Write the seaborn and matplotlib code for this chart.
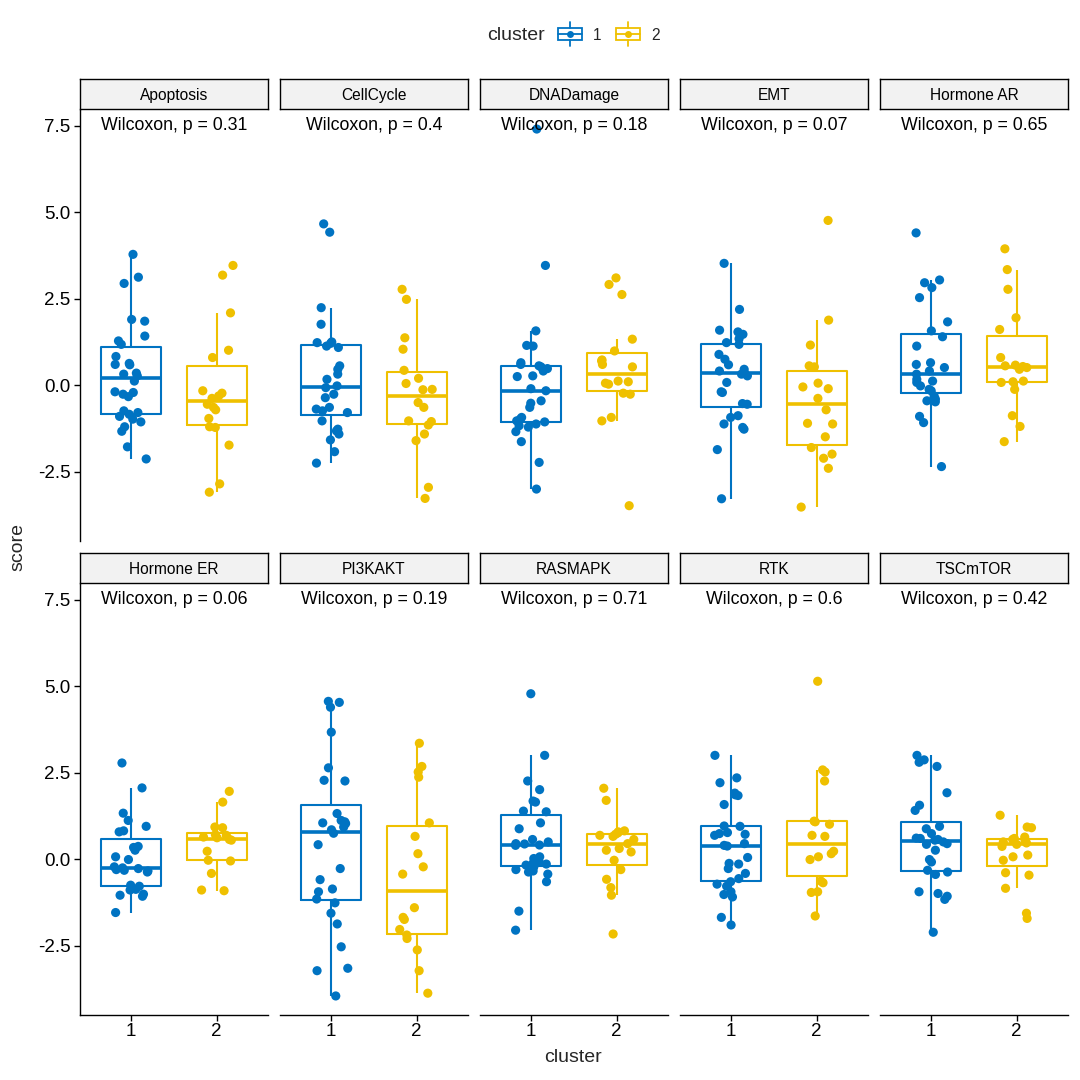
import numpy as np
import pandas as pd
import matplotlib
matplotlib.use("Agg")
import matplotlib.pyplot as plt
import seaborn as sns
from matplotlib.patches import Rectangle
from matplotlib.lines import Line2D

# ---------------- data ----------------
pathways = ["Apoptosis", "CellCycle", "DNADamage", "EMT", "Hormone AR",
            "Hormone ER", "PI3KAKT", "RASMAPK", "RTK", "TSCmTOR"]
pvalues = ["0.31", "0.4", "0.18", "0.07", "0.65",
           "0.06", "0.19", "0.71", "0.6", "0.42"]
clusters = ["1", "2"]
yticks = [-2.5, 0.0, 2.5, 5.0, 7.5]
ytick_labels = ["-2.5", "0.0", "2.5", "5.0", "7.5"]

apoptosis_c1 = [3.78, 3.12, 2.94, 1.90, 1.85, 1.42, 1.28, 1.18, 0.83, 0.63, 0.60, 0.59, 0.35, 0.32, 0.27,
                0.12, -0.19, -0.21, -0.26, -0.33, -0.74, -0.79, -0.84, -0.90, -0.98, -1.06, -1.20, -1.33,
                -1.78, -2.13]
apoptosis_c2 = [3.46, 3.18, 2.09, 1.01, 0.80, -0.16, -0.23, -0.31, -0.38, -0.55, -0.64, -0.71, -0.96,
                -1.20, -1.22, -1.73, -2.85, -3.09]
cellcycle_c1 = [4.66, 4.42, 2.24, 1.76, 1.25, 1.23, 1.21, 1.13, 1.09, 0.56, 0.46, 0.32, 0.17, -0.02,
                -0.07, -0.26, -0.36, -0.64, -0.69, -0.74, -0.79, -1.03, -1.27, -1.32, -1.41, -1.58,
                -1.92, -2.25]
cellcycle_c2 = [2.77, 2.48, 1.37, 1.04, 0.43, 0.20, 0.05, -0.12, -0.13, -0.50, -0.64, -1.03, -1.05,
                -1.15, -1.41, -1.60, -2.95, -3.27]
dnadamage_c1 = [7.40, 3.46, 1.57, 1.15, 1.13, 0.65, 0.60, 0.56, 0.53, 0.48, 0.41, 0.27, 0.25, -0.10,
                -0.16, -0.45, -0.52, -0.64, -0.93, -0.98, -1.03, -1.06, -1.12, -1.17, -1.21, -1.34,
                -1.63, -2.23, -3.00]
dnadamage_c2 = [3.10, 2.91, 2.62, 1.33, 0.99, 0.73, 0.70, 0.60, 0.53, 0.12, 0.10, 0.06, 0.03, -0.23,
                -0.26, -0.93, -1.03, -3.48]
emt_c1 = [3.52, 2.19, 1.59, 1.54, 1.47, 1.34, 1.23, 1.18, 0.89, 0.75, 0.59, 0.46, 0.41, 0.37, 0.32,
          0.27, 0.08, -0.19, -0.21, -0.53, -0.55, -0.88, -0.93, -1.12, -1.22, -1.27, -1.86, -3.28]
emt_c2 = [4.76, 1.88, 1.16, 0.56, 0.53, 0.06, -0.05, -0.10, -0.38, -0.71, -1.10, -1.12, -1.49, -1.80,
          -1.99, -2.11, -2.40, -3.52]
hormone_ar_c1 = [4.40, 3.04, 2.96, 2.82, 2.53, 1.83, 1.57, 1.40, 1.13, 0.65, 0.60, 0.51, 0.41, 0.32,
                 0.17, 0.12, 0.08, -0.02, -0.12, -0.16, -0.31, -0.40, -0.45, -0.48, -0.90, -1.08, -2.35]
hormone_ar_c2 = [3.94, 3.34, 2.77, 1.95, 1.61, 0.80, 0.58, 0.56, 0.54, 0.51, 0.46, 0.12, 0.10, 0.08,
                 -0.12, -0.88, -1.19, -1.63]
hormone_er_c1 = [2.78, 2.06, 1.33, 1.12, 0.95, 0.82, 0.79, 0.37, 0.34, 0.26, 0.07, -0.01, -0.22, -0.25,
                 -0.27, -0.30, -0.32, -0.34, -0.37, -0.75, -0.78, -0.87, -0.89, -1.01, -1.04, -1.07, -1.54]
hormone_er_c2 = [1.96, 1.65, 0.93, 0.91, 0.71, 0.69, 0.64, 0.62, 0.57, 0.55, 0.23, -0.03, -0.05, -0.41,
                 -0.89, -0.91]
pi3kakt_c1 = [4.56, 4.53, 4.39, 3.67, 2.64, 2.28, 2.26, 1.32, 1.12, 1.08, 1.05, 1.03, 0.93, 0.85, 0.75,
              0.42, -0.27, -0.59, -0.86, -0.94, -1.15, -1.26, -1.56, -1.87, -2.53, -3.15, -3.22, -3.95]
pi3kakt_c2 = [3.35, 2.68, 2.52, 2.37, 1.05, 0.66, 0.16, -0.22, -0.43, -1.40, -1.68, -1.74, -2.03, -2.19,
              -2.29, -2.62, -3.22, -3.87]
rasmapk_c1 = [4.78, 3.00, 2.26, 2.01, 1.68, 1.65, 1.39, 1.37, 1.05, 0.88, 0.57, 0.50, 0.45, 0.44, 0.41,
              0.40, 0.07, 0.02, -0.08, -0.12, -0.14, -0.17, -0.22, -0.30, -0.34, -0.37, -0.43, -0.65,
              -1.50, -2.05]
rasmapk_c2 = [2.05, 1.70, 0.82, 0.79, 0.76, 0.72, 0.69, 0.66, 0.57, 0.45, 0.31, 0.26, 0.21, -0.03,
              -0.30, -0.58, -0.82, -1.04, -2.16]
rtk_c1 = [3.00, 2.35, 2.21, 1.91, 1.86, 1.84, 1.58, 0.96, 0.95, 0.77, 0.74, 0.72, 0.69, 0.45, 0.40,
          0.38, 0.05, -0.12, -0.14, -0.27, -0.41, -0.56, -0.65, -0.72, -0.78, -0.94, -1.02, -1.09,
          -1.68, -1.90]
rtk_c2 = [5.14, 2.58, 2.52, 2.26, 1.10, 1.08, 1.01, 0.69, 0.66, 0.23, 0.16, 0.07, -0.01, -0.63, -0.68,
          -0.94, -0.96, -1.64]
tscmtor_c1 = [3.00, 2.87, 2.80, 2.68, 1.92, 1.56, 1.41, 0.95, 0.88, 0.74, 0.61, 0.60, 0.57, 0.55, 0.50,
              0.45, 0.43, 0.26, -0.01, -0.08, -0.32, -0.37, -0.44, -0.94, -0.99, -1.07, -1.16, -2.11]
tscmtor_c2 = [1.27, 0.93, 0.91, 0.64, 0.60, 0.57, 0.53, 0.50, 0.47, 0.43, 0.37, 0.12, 0.07, -0.03,
              -0.39, -0.46, -0.84, -1.56, -1.71]

series = {
    "Apoptosis": (apoptosis_c1, apoptosis_c2),
    "CellCycle": (cellcycle_c1, cellcycle_c2),
    "DNADamage": (dnadamage_c1, dnadamage_c2),
    "EMT": (emt_c1, emt_c2),
    "Hormone AR": (hormone_ar_c1, hormone_ar_c2),
    "Hormone ER": (hormone_er_c1, hormone_er_c2),
    "PI3KAKT": (pi3kakt_c1, pi3kakt_c2),
    "RASMAPK": (rasmapk_c1, rasmapk_c2),
    "RTK": (rtk_c1, rtk_c2),
    "TSCmTOR": (tscmtor_c1, tscmtor_c2),
}

rows = []
for pw in pathways:
    for cl, vals in zip(clusters, series[pw]):
        for v in vals:
            rows.append({"pathway": pw, "cluster": cl, "score": v})
df = pd.DataFrame(rows)

# ---------------- style ----------------
sns.set_theme(style="ticks")
plt.rcParams["font.family"] = ["Liberation Sans", "DejaVu Sans"]
palette = {"1": "#0073C2", "2": "#EFC000"}
np.random.seed(3)

W = H = 1080
fig = plt.figure(figsize=(10.8, 10.8), dpi=100)


def frac(left, top, width, height):
    return [left / W, 1 - (top + height) / H, width / W, height / H]


ax_tops = [110, 584]
ax_h = 431
strip_tops = [79, 553]
strip_h = 30
ylim = (-4.5, 7.95)

for i, pw in enumerate(pathways):
    r, c = divmod(i, 5)
    left = 80 + c * 200
    ax = fig.add_axes(frac(left, ax_tops[r], 188, ax_h))
    sub = df[df.pathway == pw]
    sns.boxplot(data=sub, x="cluster", y="score", hue="cluster", order=clusters,
                hue_order=clusters, palette=palette, fill=False, width=0.7,
                dodge=False, showfliers=False, showcaps=False, linewidth=1.5,
                medianprops=dict(linewidth=2.6), legend=False, ax=ax)
    sns.stripplot(data=sub, x="cluster", y="score", hue="cluster", order=clusters,
                  hue_order=clusters, palette=palette, jitter=0.2, size=6.6,
                  dodge=False, legend=False, ax=ax, zorder=3)
    ax.text(0.5, 7.49, f"Wilcoxon, p = {pvalues[i]}", ha="center", va="center",
            fontsize=12.8, color="black", zorder=10)
    ax.set_xlim(-0.6, 1.6)
    ax.set_ylim(*ylim)
    ax.set_xlabel("")
    ax.set_ylabel("")
    for s in ["top", "right"]:
        ax.spines[s].set_visible(False)
    ax.spines["left"].set_visible(c == 0)
    ax.spines["bottom"].set_visible(r == 1)
    for s in ["left", "bottom"]:
        ax.spines[s].set_linewidth(1.0)
        ax.spines[s].set_color("black")
    ax.set_yticks(yticks)
    ax.set_yticklabels(ytick_labels)
    ax.tick_params(axis="y", left=(c == 0), labelleft=(c == 0), labelsize=13.5,
                   length=4, width=1.0, color="black", labelcolor="black", pad=3)
    ax.tick_params(axis="x", bottom=(r == 1), labelbottom=(r == 1), labelsize=13.5,
                   length=4, width=1.0, color="black", labelcolor="black", pad=2)
    # strip
    sax = fig.add_axes(frac(left, strip_tops[r], 188, strip_h))
    sax.set_facecolor("#F2F2F2")
    sax.set_xticks([])
    sax.set_yticks([])
    for s in sax.spines.values():
        s.set_color("black")
        s.set_linewidth(1.0)
    sax.text(0.5, 0.45, pw, ha="center", va="center", fontsize=11.2,
             color="black", transform=sax.transAxes)

# axis titles
fig.text(573 / W, 1 - 1057 / H, "cluster", ha="center", va="center", fontsize=14)
fig.text(18 / W, 1 - 547 / H, "score", ha="center", va="center", rotation=90, fontsize=14)

# legend (top)
lax = fig.add_axes([0, 0, 1, 1], facecolor="none")
lax.set_xlim(0, W)
lax.set_ylim(H, 0)
lax.axis("off")
lax.text(516, 35, "cluster", ha="center", va="center", fontsize=14)
for x0, cl, lx in [(558, "1", 597), (616, "2", 656)]:
    col = palette[cl]
    lax.add_patch(Rectangle((x0, 28), 24, 12, fill=False, edgecolor=col, lw=1.3))
    lax.add_line(Line2D([x0 + 12, x0 + 12], [22, 28], color=col, lw=1.3))
    lax.add_line(Line2D([x0 + 12, x0 + 12], [40, 46], color=col, lw=1.3))
    lax.add_line(Line2D([x0, x0 + 24], [34, 34], color=col, lw=1.3))
    lax.plot([x0 + 12], [34], marker="o", markersize=5, color=col, markeredgewidth=0)
    lax.text(lx, 35, cl, ha="center", va="center", fontsize=11.2)

fig.savefig("out.png", dpi=100, facecolor="white")
